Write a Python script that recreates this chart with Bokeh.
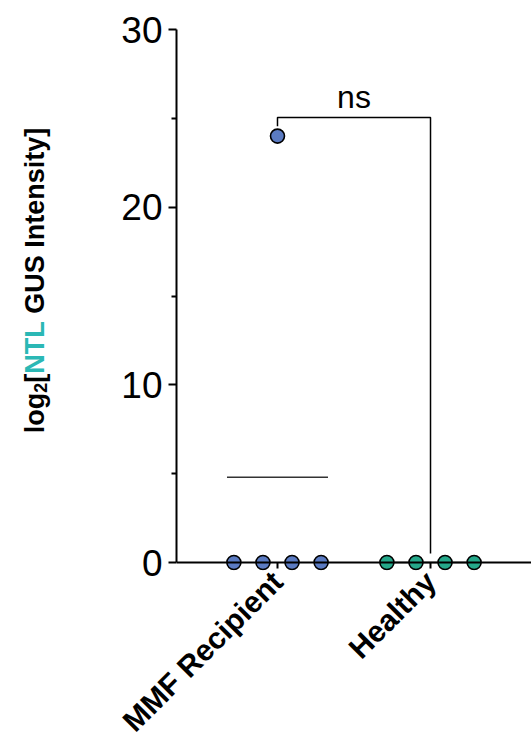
import math
import numpy as np
from bokeh.plotting import figure
from bokeh.layouts import row
from bokeh.models import Range1d, FixedTicker, LinearAxis
from bokeh.core.properties import value
from bokeh.embed import file_html
from bokeh.resources import INLINE

# ---- data ----
categories = ["MMF Recipient", "Healthy"]
mmf_values = [0, 0, 0, 0, 24]
healthy_values = [0, 0, 0, 0]
series = [mmf_values, healthy_values]
fill_colors = ["#5b7bc2", "#25a88a"]
y_ticks = [0, 10, 20, 30]
y_minor = [5, 15, 25]
stat_label = "ns"
y_title = [("log", "black"), ("2", "black"), ("[", "black"),
           ("NTL", "#2bb8b5"), ("GUS Intensity]", "black")]

FONT = "Liberation Sans"

H = 753
LW = 60            # width of the title strip
W = 531 - LW
TOP, LEFT = 29, 176 - LW
ZERO = 562
PAD = 8
ppu = (ZERO - TOP) / 30.0
ystart = -PAD / ppu

p = figure(width=W, height=H, output_backend="svg", toolbar_location=None,
           x_range=Range1d(0.34, 2.66), y_range=Range1d(ystart, 30),
           min_border_left=LEFT, min_border_right=0, min_border_top=TOP,
           min_border_bottom=H - ZERO - PAD)
p.outline_line_color = None
p.grid.visible = False
p.background_fill_color = "white"
p.border_fill_color = "white"

# y axis
ya = p.yaxis[0]
ya.ticker = FixedTicker(ticks=y_ticks, minor_ticks=y_minor)
ya.bounds = (0, 30)
ya.axis_line_width = 2
ya.major_tick_line_width = 2
ya.minor_tick_line_width = 2
ya.major_tick_in = 0
ya.major_tick_out = 8
ya.minor_tick_in = 0
ya.minor_tick_out = 5
ya.major_label_text_font = FONT
ya.major_label_text_font_size = "37px"
ya.major_label_text_color = "black"
ya.major_label_standoff = 6

# x axis: category labels (standard, below the frame)
xa = p.xaxis[0]
xa.ticker = FixedTicker(ticks=[1, 2], minor_ticks=[])
xa.major_label_overrides = {i + 1: c for i, c in enumerate(categories)}
xa.axis_line_color = None
xa.major_tick_line_color = None
xa.minor_tick_line_color = None
xa.major_tick_in = 0
xa.major_tick_out = 0
xa.minor_tick_out = 0
xa.major_label_orientation = math.pi / 4
xa.major_label_text_font = FONT
xa.major_label_text_font_style = "bold"
xa.major_label_text_font_size = "30px"
xa.major_label_text_color = "black"
xa.major_label_standoff = 6

# x axis line and ticks drawn at y = 0 (panel kept on top so it takes no room below)
xa0 = LinearAxis(fixed_location=0, ticker=FixedTicker(ticks=[1, 2], minor_ticks=[]))
xa0.axis_line_width = 2
xa0.major_tick_line_width = 2
xa0.major_tick_in = 6
xa0.major_tick_out = 0
xa0.minor_tick_in = 0
xa0.minor_tick_out = 0
xa0.major_label_text_font_size = "0px"
xa0.major_label_standoff = 0
xa0.major_label_overrides = {1: "", 2: ""}
p.add_layout(xa0, "above")

# points (swarm layout of equal values), mean lines
d = 0.19
for i, vals in enumerate(series):
    cx = i + 1
    vals = np.array(vals, dtype=float)
    xs = np.zeros(len(vals))
    for v in np.unique(vals):
        idx = np.where(vals == v)[0]
        n = len(idx)
        xs[idx] = cx + (np.arange(n) - (n - 1) / 2) * d
    m = vals.mean()
    p.line([cx - 0.33, cx + 0.33], [m, m], line_color="#333333", line_width=1.5)
    p.scatter(xs, vals, size=14, fill_color=fill_colors[i], line_color="black",
              line_width=1.6)

# significance bracket
top = max(max(s) for s in series)
by = top + 1.05
p.line([1, 1, 2, 2], [top + 0.55, by, by, 0.5], line_color="black", line_width=1.5)
p.text(x=[1.5], y=[by + 1.15], text=[stat_label], text_font=value(FONT),
       text_font_size="32px", text_align="center", text_baseline="middle",
       text_color="black")

# ---- y title strip (mixed colours, subscript); shares the y scale ----
t = figure(width=LW, height=H, output_backend="svg", toolbar_location=None,
           x_axis_type=None, y_axis_type=None,
           x_range=Range1d(0, LW), y_range=p.y_range,
           min_border_left=0, min_border_right=0,
           min_border_top=TOP, min_border_bottom=H - ZERO - PAD)
t.outline_line_color = None
t.grid.visible = False
t.border_fill_color = "white"

aw = {" ": 278, "[": 333, "]": 333, "2": 556, "G": 778, "I": 278, "L": 611,
      "N": 722, "S": 667, "T": 611, "U": 722, "e": 556, "g": 611, "i": 278,
      "l": 278, "n": 611, "o": 611, "s": 556, "t": 333, "y": 556}
def tw(s, fs):
    return sum(aw[c] for c in s) * fs / 1000.0

fs, sub_fs = 27, 18
sizes = [fs, sub_fs, fs, fs, fs]
dxs = [0, 6, 0, 0, 0]
gaps = [0, 0, 0, 0, tw(" ", fs)]   # word space before "GUS"
total = sum(tw(s, f) + g for (s, _), f, g in zip(y_title, sizes, gaps))
page_center = 280
ypos = (ZERO - page_center) / ppu - (total / 2) / ppu
for (s, col), f, dx, g in zip(y_title, sizes, dxs, gaps):
    ypos += g / ppu
    t.text(x=[34 + dx], y=[ypos], text=[s], angle=math.pi / 2,
           text_font=value(FONT), text_font_style="bold",
           text_font_size=f"{f}px", text_color=col,
           text_align="left", text_baseline="middle")
    ypos += tw(s, f) / ppu

layout = row(t, p)
open("out.html", "w").write(file_html(layout, INLINE))
